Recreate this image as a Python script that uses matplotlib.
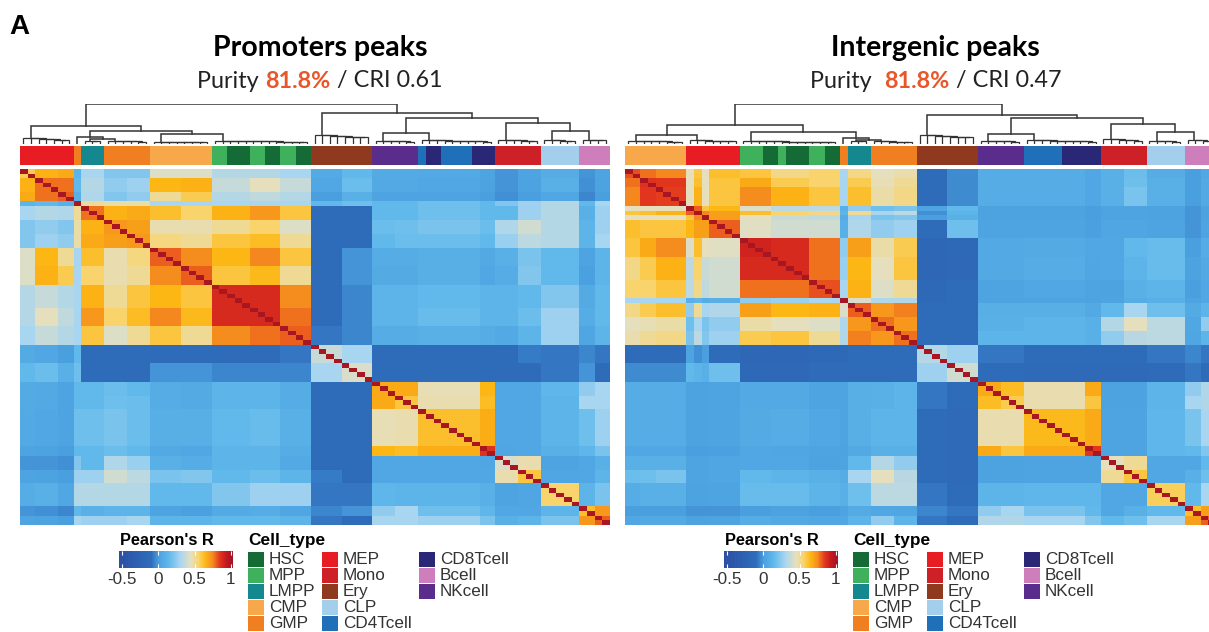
import numpy as np
import matplotlib
matplotlib.use('Agg')
import matplotlib.pyplot as plt
from matplotlib.cm import ScalarMappable
from matplotlib.colors import LinearSegmentedColormap, ListedColormap, Normalize
from matplotlib.patches import Rectangle

W, H = 1209, 632

cell_types = ['HSC', 'MPP', 'LMPP', 'CMP', 'GMP', 'MEP', 'Mono', 'Ery', 'CLP', 'CD4Tcell', 'CD8Tcell', 'Bcell', 'NKcell']
cell_colors = ['#146B36', '#3FB05B', '#14878F', '#F6A84A', '#F07F21', '#E81C23', '#CE2027', '#8F3A1E', '#A3CEEC',
               '#1F70B8', '#2B2777', '#CE7FBB', '#5A2D8C']

# annotation strip, runs of (cell type, samples) read left to right
left_runs = [('MEP', 7), ('GMP', 1), ('LMPP', 3), ('GMP', 6), ('CMP', 8), ('MPP', 2), ('HSC', 3), ('MPP', 2), ('HSC', 2),
             ('MPP', 2), ('HSC', 2), ('Ery', 8), ('NKcell', 6), ('CD4Tcell', 1), ('CD8Tcell', 2), ('CD4Tcell', 4),
             ('CD8Tcell', 3), ('Mono', 6), ('CLP', 5), ('Bcell', 4)]
right_runs = [('CMP', 8), ('MEP', 7), ('MPP', 3), ('HSC', 2), ('MPP', 1), ('HSC', 3), ('MPP', 2), ('HSC', 2), ('GMP', 1),
              ('LMPP', 3), ('GMP', 6), ('Ery', 8), ('NKcell', 6), ('CD4Tcell', 5), ('CD8Tcell', 5), ('Mono', 6),
              ('CLP', 5), ('Bcell', 4)]

# block edges of the heatmaps, in samples
left_edges = [0, 2, 5, 7, 8, 11, 14, 17, 21, 25, 30, 34, 38, 42, 46, 49, 52, 60, 62, 65, 68, 73, 75, 77]
right_edges = [0, 2, 4, 8, 9, 10, 11, 15, 19, 24, 28, 29, 32, 35, 38, 42, 46, 49, 52, 60, 62, 65, 68, 73, 75, 77]

# Pearson's R per block, upper triangle, each row starts on the diagonal
left_r = [
    [.58, .66, .68, .12, .30, .22, .22, .43, .43, .33, .33, .30, .07, .14, .07, .07, .06, .03, -.02, .03, .08, -.02, .03],
    [.78, .78, .15, .33, .25, .28, .65, .66, .37, .45, .37, .05, .17, .06, .06, .05, .02, -.02, .02, .10, -.03, .02],
    [.80, .10, .32, .22, .25, .50, .58, .33, .36, .33, .00, .10, .03, .03, .03, .00, -.03, .00, .05, -.05, .00],
    [1.0, .50, .48, .48, .30, .30, .30, .30, .30, .15, .18, .14, .14, .18, .15, .22, .28, .33, .15, .30],
    [.78, .66, .68, .62, .55, .66, .72, .60, -.12, -.12, .15, .15, .18, .14, .14, .28, .33, .10, .28],
    [.72, .70, .47, .47, .50, .55, .43, -.12, -.12, .17, .18, .20, .17, .32, .40, .33, .12, .28],
    [.72, .53, .50, .60, .63, .50, -.12, -.12, .15, .17, .17, .15, .27, .35, .33, .12, .30],
    [.80, .74, .65, .75, .60, -.10, -.02, .08, .08, .09, .06, .10, .20, .14, .03, .12],
    [.80, .60, .64, .50, -.10, -.02, .07, .07, .09, .05, .08, .22, .14, .01, .12],
    [.88, .88, .74, -.10, -.05, .12, .12, .15, .12, .12, .15, .22, .07, .15],
    [.88, .78, -.10, -.05, .12, .12, .16, .12, .12, .17, .28, .08, .15],
    [.80, -.08, -.05, .08, .08, .10, .08, .06, .12, .28, .04, .12],
    [.38, .30, -.12, -.10, -.10, -.12, -.10, -.07, -.08, -.05, -.08],
    [.42, -.10, -.10, -.12, -.13, -.12, -.10, -.08, -.02, -.10],
    [.68, .68, .46, .65, .05, .05, .13, .25, .30],
    [.60, .47, .63, .05, .05, .12, .30, .30],
    [.62, .67, .05, .05, .12, .18, .28],
    [.86, .04, .05, .10, .13, .20],
    [.42, .47, .03, .05, .10],
    [.60, .04, .05, .12],
    [.55, .12, .20],
    [.62, .72],
    [.80],
]
right_r = [
    [.82, .78, .75, .45, .60, .45, .62, .60, .52, .55, .30, .52, .45, .47, -.13, -.04, .08, .08, .08, .05, .10, .17, .08, .00, .05],
    [.86, .85, .45, .62, .45, .60, .68, .58, .55, .30, .58, .46, .50, -.13, -.04, .08, .08, .08, .05, .10, .18, .10, .00, .06],
    [.84, .45, .66, .45, .60, .74, .66, .60, .30, .62, .48, .52, -.13, -.04, .08, .08, .08, .05, .10, .20, .10, .00, .06],
    [1.0, .80, .60, .65, .43, .35, .35, .10, .25, .18, .20, .03, .15, .02, .02, .02, .00, .03, .03, .02, -.02, .02],
    [1.0, .75, .70, .62, .55, .52, .12, .50, .30, .35, -.03, .12, .02, .02, .02, .00, .03, .03, .02, -.02, .02],
    [1.0, .70, .45, .38, .36, .08, .30, .20, .22, .00, .10, .02, .02, .02, .00, .03, .03, .02, -.02, .02],
    [.80, .44, .40, .40, .10, .32, .25, .28, -.10, .18, .03, .03, .03, .01, .04, .04, .03, -.02, .03],
    [.90, .88, .78, .25, .70, .48, .58, -.18, -.15, .06, .06, .07, .05, .05, .15, .16, .00, .08],
    [.88, .78, .27, .65, .45, .60, -.18, -.16, .06, .06, .08, .04, .05, .12, .16, .02, .06],
    [.82, .30, .66, .43, .50, -.15, -.13, .03, .03, .05, .03, .02, .10, .12, .00, .05],
    [1.0, .42, .32, .32, -.15, -.10, .03, .03, .03, .02, .03, .08, .10, .03, .05],
    [.80, .72, .76, -.13, -.12, .09, .09, .09, .06, .14, .30, .18, .07, .12],
    [.78, .72, -.12, -.12, .10, .10, .12, .10, .33, .45, .35, .05, .25],
    [.78, -.13, -.13, .12, .12, .12, .10, .25, .34, .35, .04, .12],
    [.33, .28, -.08, -.08, -.12, -.12, -.13, -.12, -.08, -.05, -.08],
    [.40, -.12, -.12, -.14, -.14, -.14, -.14, -.12, -.08, -.12],
    [.68, .63, .47, .68, .02, .02, .12, .25, .32],
    [.58, .47, .60, .02, .02, .12, .30, .32],
    [.64, .68, .03, .03, .13, .20, .30],
    [.85, .03, .03, .13, .15, .22],
    [.45, .50, .05, .05, .15],
    [.60, .05, .10, .18],
    [.57, .15, .30],
    [.62, .70],
    [.80],
]

# dendrograms: (height, left, right) joins, (leaves, height) for a tight cluster
left_tree = (40,
             (18, (7, 6), (13, (7, (1, 0), (5.5, (3, 3), (6, 3.5))), (10, (8, 2.5), (13, 3.5)))),
             (31.3, (8, 9), (26, (11, (6, 3.5), (10, 4)), (21, (6, 4.5), (13, (5, 4), (4, 4.5))))))
right_tree = (40,
              (19, (9, (8, 3.5), (7, 4)), (12, (13, 3), (6, (1, 0), (4, (3, 3), (6, 3))))),
              (29, (8, 9), (26, (10, (6, 3.5), (10, 4)), (20, (6, 5), (12, (5, 3.5), (4, 4))))))

r_nodes = [-.55, -.1, 0, .15, .3, .45, .55, .65, .75, .85, .93, 1.03]
r_colors = ['#2A4FA3', '#2F6DBB', '#4A9FDF', '#62BAEC', '#A8D5F0', '#E5E0C0', '#F9D56E', '#FDB714', '#F58A1F', '#E2361E',
            '#C8191F', '#9C1524']
cbar_ticks = [-0.5, 0, 0.5, 1]
cbar_labels = ['-0.5', '0', '0.5', '1']

plt.rcParams['font.family'] = ['Liberation Sans', 'DejaVu Sans']
norm = Normalize(r_nodes[0], r_nodes[-1])
heat_cmap = LinearSegmentedColormap.from_list('pearson', [(norm(v), c) for v, c in zip(r_nodes, r_colors)], N=512)


def px_axes(fig, x0, y0, x1, y1):
    return fig.add_axes([x0 / W, 1 - y1 / H, (x1 - x0) / W, (y1 - y0) / H])


def build_matrix(edges, rows):
    n = edges[-1]
    m = np.zeros((n, n))
    for i, row in enumerate(rows):
        for k, v in enumerate(row):
            j = i + k
            m[edges[i]:edges[i + 1], edges[j]:edges[j + 1]] = v
            m[edges[j]:edges[j + 1], edges[i]:edges[i + 1]] = v
    np.fill_diagonal(m, 1)
    return m


def draw_comb(ax, n, h, start):
    # chain of joins that walks down to the right
    x = start + n - 0.5
    y = 0
    step = min(0.4, 0.5 * h / max(n, 1))
    for k in range(n - 2, -1, -1):
        level = h - step * k
        leaf = start + k + 0.5
        ax.plot([leaf, leaf, x, x], [0, level, level, y], color=tree_color, lw=0.9, solid_joinstyle='miter')
        x = (leaf + x) / 2
        y = level
    return x, y, n


def draw_tree(ax, node, start=0):
    if len(node) == 2:
        return draw_comb(ax, node[0], node[1], start)
    h, a, b = node
    xa, ya, na = draw_tree(ax, a, start)
    xb, yb, nb = draw_tree(ax, b, start + na)
    ax.plot([xa, xa, xb, xb], [ya, h, h, yb], color=tree_color, lw=1.1, solid_joinstyle='miter')
    return (xa + xb) / 2, h, na + nb


def strip_codes(runs):
    return [cell_types.index(name) for name, n in runs for i in range(n)]


def draw_panel(fig, x0, runs, edges, rows, tree):
    x1 = x0 + 590
    ax = px_axes(fig, x0, 169.3, x1, 525)
    ax.imshow(build_matrix(edges, rows), cmap=heat_cmap, norm=norm, aspect='auto', interpolation='nearest')
    ax.axis('off')

    strip = px_axes(fig, x0, 146, x1, 165.3)
    strip.imshow([strip_codes(runs)], cmap=ListedColormap(cell_colors), vmin=0, vmax=len(cell_types) - 1, aspect='auto',
                 interpolation='nearest')
    strip.axis('off')

    dend = px_axes(fig, x0, 104, x1, 144)
    dend.set_xlim(0, 77)
    dend.set_ylim(0, 40)
    draw_tree(dend, tree)
    dend.axis('off')


def draw_legend(fig, page, dx):
    page.text(120 + dx, 540.5, "Pearson's R", fontsize=11.8, fontweight='bold', va='center', ha='left')
    cax = px_axes(fig, 118.7 + dx, 551, 233 + dx, 567.5)
    cb = fig.colorbar(ScalarMappable(norm=norm, cmap=heat_cmap), cax=cax, orientation='horizontal')
    cb.set_ticks(cbar_ticks)
    cb.set_ticklabels(cbar_labels)
    cb.outline.set_visible(False)
    cax.tick_params(axis='x', colors='white', direction='in', length=3, width=0.8, pad=3.5, labelsize=12.3,
                    labelcolor='#333333', top=True)
    page.text(248 + dx, 540.5, 'Cell_type', fontsize=12.4, fontweight='bold', va='center', ha='left')
    for i, name in enumerate(cell_types):
        col = 0 if i < 5 else 1 if i < 10 else 2
        row = i if i < 5 else i - 5 if i < 10 else i - 10
        sx = [248, 322, 419][col] + dx
        sy = 559 + 16 * row
        page.add_patch(Rectangle((sx, sy - 7.5), 15.5, 15, color=cell_colors[i], lw=0))
        page.text(sx + 21, sy + 0.5, name, fontsize=12.3, color='#333333', va='center', ha='left')


def draw_subtitle(fig, page, x, y, parts):
    # parts are placed one after the other, each starts where the last one ended
    rend = fig.canvas.get_renderer()
    for part, color, weight in parts:
        t = page.text(x, y, part, fontsize=16.8, family='Lato', color=color, fontweight=weight, va='center', ha='left')
        x += t.get_window_extent(rend).width + 0.5


fig = plt.figure(figsize=(W / 100, H / 100), dpi=100)
page = fig.add_axes([0, 0, 1, 1])
page.set_xlim(0, W)
page.set_ylim(H, 0)
page.axis('off')

tree_color = '#333333'
draw_panel(fig, 19.5, left_runs, left_edges, left_r, left_tree)
draw_panel(fig, 624.5, right_runs, right_edges, right_r, right_tree)

page.text(9, 27, 'A', fontsize=20, fontweight='bold', va='center', ha='left')
page.text(320, 48, 'Promoters peaks', fontsize=20.5, family='Lato', fontweight='bold', va='center', ha='center')
page.text(935, 48, 'Intergenic peaks', fontsize=20.5, family='Lato', fontweight='bold', va='center', ha='center')
draw_subtitle(fig, page, 197, 81, [('Purity ', '#222222', 'normal'), ('81.8%', '#E8562A', 'bold'),
                                   (' / CRI 0.61', '#222222', 'normal')])
draw_subtitle(fig, page, 810, 81, [('Purity  ', '#222222', 'normal'), ('81.8%', '#E8562A', 'bold'),
                                   (' / CRI 0.47', '#222222', 'normal')])
draw_legend(fig, page, 0)
draw_legend(fig, page, 605)

fig.savefig('out.png', dpi=100)
